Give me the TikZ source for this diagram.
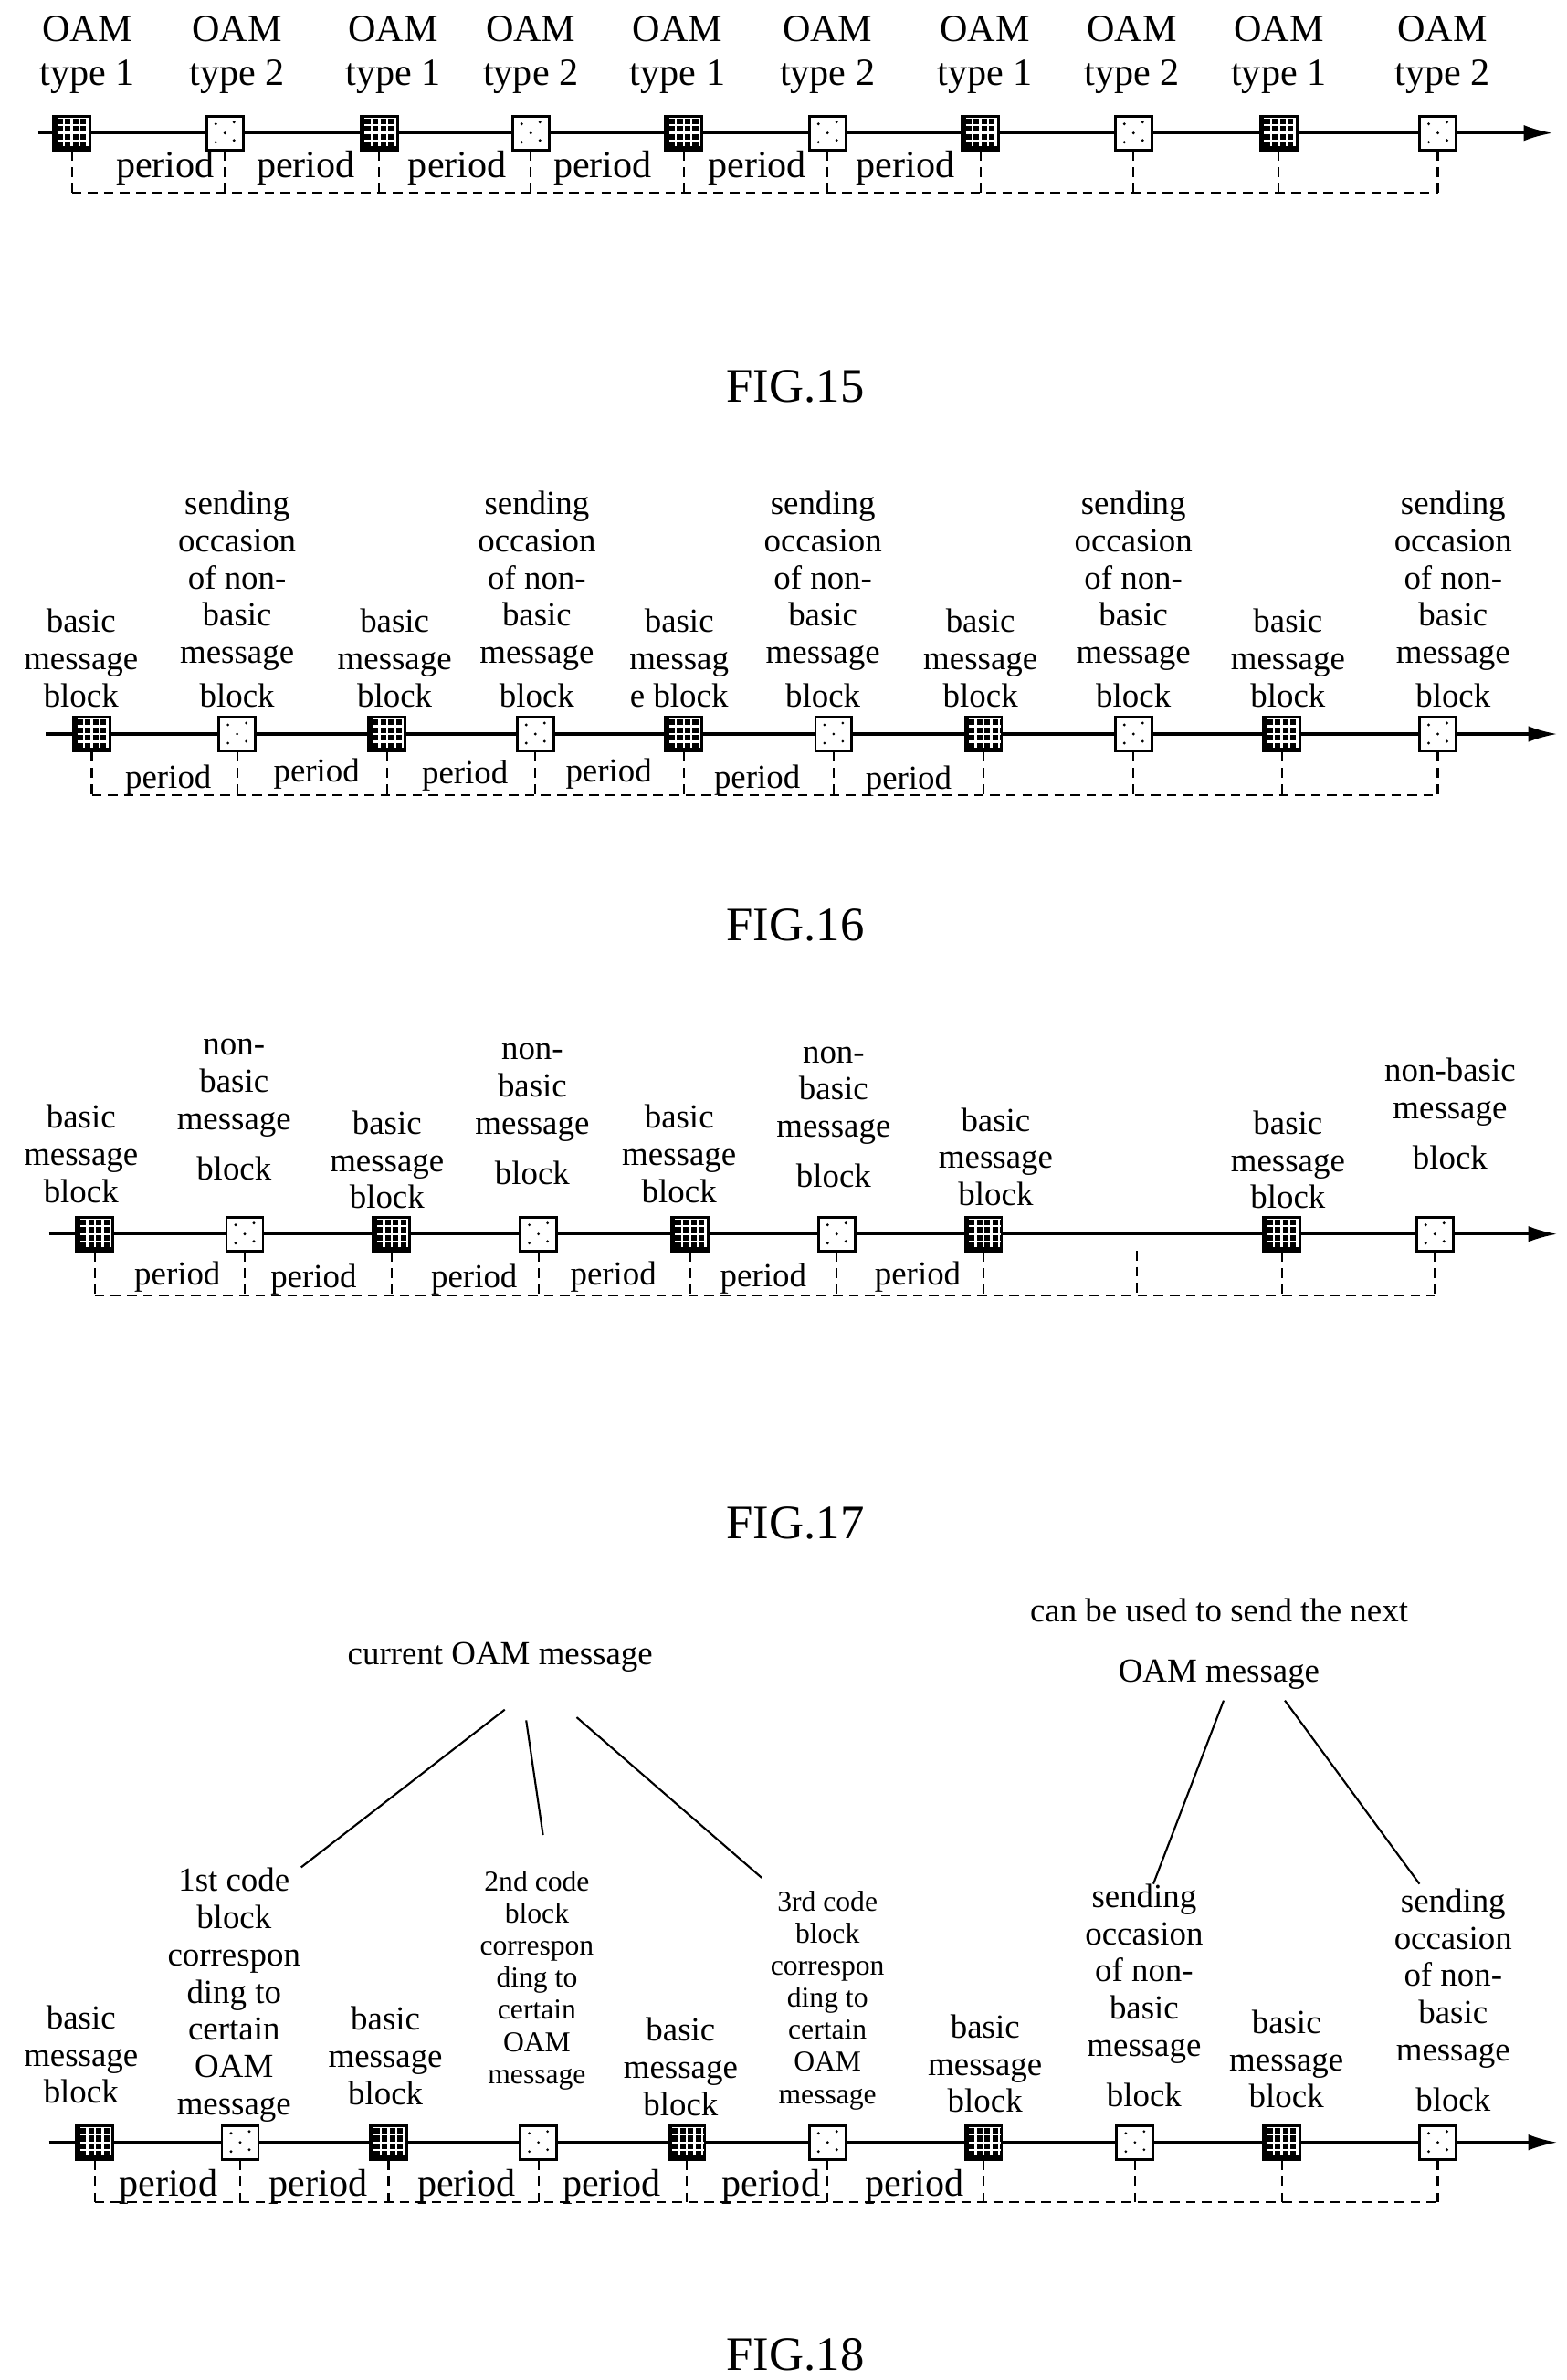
\documentclass[tikz,border=0pt]{standalone}
\usepackage{fontspec}
\setmainfont{Liberation Serif}
\usetikzlibrary{arrows.meta}
\begin{document}
\begin{tikzpicture}[x=0.01675cm,y=-0.01675cm,
  txt/.style={font=\fontsize{10.5}{11.6}\selectfont,align=center,inner sep=0pt},
  stxt/.style={font=\fontsize{9}{10}\selectfont,align=center,inner sep=0pt},
  fig/.style={font=\fontsize{15}{17}\selectfont,inner sep=0pt},
  axis/.style={line width=0.9pt,-{Latex[length=9pt,width=5pt]}},
  br/.style={densely dashed,line width=0.6pt},
  dark/.style={draw=black,fill=black,minimum width=0.4cm,minimum height=0.37cm,inner sep=0pt,line width=0.8pt,
    path picture={\draw[white,line width=0.7pt,step=0.085cm] ([shift={(0.04cm,0.04cm)}]path picture bounding box.south west) grid (path picture bounding box.north east);}},
  light/.style={draw=black,fill=white,minimum width=0.4cm,minimum height=0.37cm,inner sep=0pt,line width=0.8pt,
    path picture={\foreach \a/\b in {-0.1/0.1,0.1/0.12,0/0,-0.1/-0.1,0.1/-0.08}{\fill[black] ([shift={(\a cm,\b cm)}]path picture bounding box.center) circle (0.45pt);}}},
  lnk/.style={line width=0.6pt}]
\useasboundingbox (0,0) rectangle (1024,1556.4);

% ---------------- FIG 15
\coordinate (a15s) at (25,87); \coordinate (a15e) at (1015,87);
\draw[axis] (a15s) -- (a15e);
\foreach \x [count=\i] in {47,147,248,347,447,541,641,741,836,940}{
  \ifodd\i \node[dark] (b15\i) at (\x,87) {}; \else \node[light] (b15\i) at (\x,87) {}; \fi
}
\foreach \x/\t [count=\i] in {57/1,155/2,257/1,347/2,443/1,541/2,644/1,740/2,836/1,943/2}
  \node[txt,font=\fontsize{12}{13.5}\selectfont] (l15\i) at (\x,36) {OAM\\type \t};
\coordinate (q15) at (938,126);
\foreach \i in {1,...,10}{ \draw[br] (b15\i.south) -- (b15\i.south |- q15); }
\draw[br] (b151.south |- q15) -- (b1510.south |- q15);
\foreach \x [count=\i] in {108,200,299,394,495,592}
  \node[txt,font=\fontsize{12}{13.5}\selectfont] (p15\i) at (\x,110) {period};
\node[fig] (f15) at (520,253) {FIG.15};

% ---------------- FIG 16
\draw[axis] (30,480) -- (1018,480);
\foreach \x [count=\i] in {60,155,253,350,447,545,643,741,838,940}{
  \ifodd\i \node[dark] (b16\i) at (\x,480) {}; \else \node[light] (b16\i) at (\x,480) {}; \fi
}
\foreach \x [count=\i] in {53,258,641,842}
  \node[txt,anchor=south] (bm16\i) at (\x,463) {basic\\message\\block};
\node[txt,anchor=south] (bm165) at (444,463) {basic\\messag\\e block};
\foreach \x [count=\i] in {155,351,538,741,950}
  \node[txt,anchor=south] (so16\i) at (\x,463) {sending\\occasion\\of non-\\basic\\message\\[2pt]block};
\coordinate (q16) at (940,520);
\foreach \i in {1,...,10}{ \draw[br] (b16\i.south) -- (b16\i.south |- q16); }
\draw[br] (b161.south |- q16) -- (b1610.south |- q16);
\foreach \x/\y [count=\i] in {110/510,207/506,304/507,398/506,495/510,594/511}
  \node[txt] (p16\i) at (\x,\y) {period};
\node[fig] (f16) at (520,605) {FIG.16};

% ---------------- FIG 17
\draw[axis] (32,807) -- (1018,807);
\foreach \x/\k [count=\i] in {62/d,160/l,256/d,352/l,451/d,547/l,643/d,838/d,938/l}{
  \if\k d\node[dark] (b17\i) at (\x,807) {};\else\node[light] (b17\i) at (\x,807) {};\fi
}
\foreach \x/\y [count=\i] in {53/787,253/791,444/787,651/789,842/791}
  \node[txt,anchor=south] (bm17\i) at (\x,\y) {basic\\message\\block};
\foreach \x/\y [count=\i] in {153/772,348/775,545/777}
  \node[txt,anchor=south] (nb17\i) at (\x,\y) {non-\\basic\\message\\[4pt]block};
\node[txt,anchor=south] (nb174) at (948,765) {non-basic\\message\\[4pt]block};
\coordinate (q17) at (938,847); \coordinate (v17) at (743,818);
\foreach \i in {1,...,9}{ \draw[br] (b17\i.south) -- (b17\i.south |- q17); }
\draw[br] (v17) -- (v17 |- q17);
\draw[br] (b171.south |- q17) -- (b179.south |- q17);
\foreach \x/\y [count=\i] in {116/835,205/837,310/837,401/835,499/836,600/835}
  \node[txt] (p17\i) at (\x,\y) {period};
\node[fig] (f17) at (520,996) {FIG.17};

% ---------------- FIG 18
\draw[axis] (32,1401) -- (1018,1401);
\foreach \x [count=\i] in {62,157,254,352,449,541,643,742,838,940}{
  \ifodd\i \node[dark] (b18\i) at (\x,1401) {}; \else \node[light] (b18\i) at (\x,1401) {}; \fi
}
\foreach \x/\y [count=\i] in {53/1376,252/1377,445/1384,644/1382,841/1379}
  \node[txt,anchor=south] (bm18\i) at (\x,\y) {basic\\message\\block};
\node[txt,anchor=south] (c181) at (153,1388) {1st code\\block\\correspon\\ding to\\certain\\OAM\\message};
\node[stxt,anchor=south] (c182) at (351,1367) {2nd code\\block\\correspon\\ding to\\certain\\OAM\\message};
\node[stxt,anchor=south] (c183) at (541,1380) {3rd code\\block\\correspon\\ding to\\certain\\OAM\\message};
\node[txt,anchor=south] (so181) at (748,1378) {sending\\occasion\\of non-\\basic\\message\\[4pt]block};
\node[txt,anchor=south] (so182) at (950,1381) {sending\\occasion\\of non-\\basic\\message\\[4pt]block};
\node[txt] (cur) at (327,1084) {current OAM message};
\node[txt,font=\fontsize{10.5}{19}\selectfont] (nxt) at (797,1075) {can be used to send the next\\OAM message};
\draw[lnk] (330,1118) -- (c181.north east);
\draw[lnk] (344,1125) -- (355,1200);
\draw[lnk] (377,1123) -- (498,1228);
\draw[lnk] (800,1112) -- (754,1232);
\draw[lnk] (840,1112) -- (928,1232);
\coordinate (q18) at (940,1440);
\foreach \i in {1,...,10}{ \draw[br] (b18\i.south) -- (b18\i.south |- q18); }
\draw[br] (b181.south |- q18) -- (b1810.south |- q18);
\foreach \x [count=\i] in {110,208,305,400,504,598}
  \node[txt,font=\fontsize{12}{13.5}\selectfont] (p18\i) at (\x,1430) {period};
\node[fig] (f18) at (520,1540) {FIG.18};
\end{tikzpicture}
\end{document}
